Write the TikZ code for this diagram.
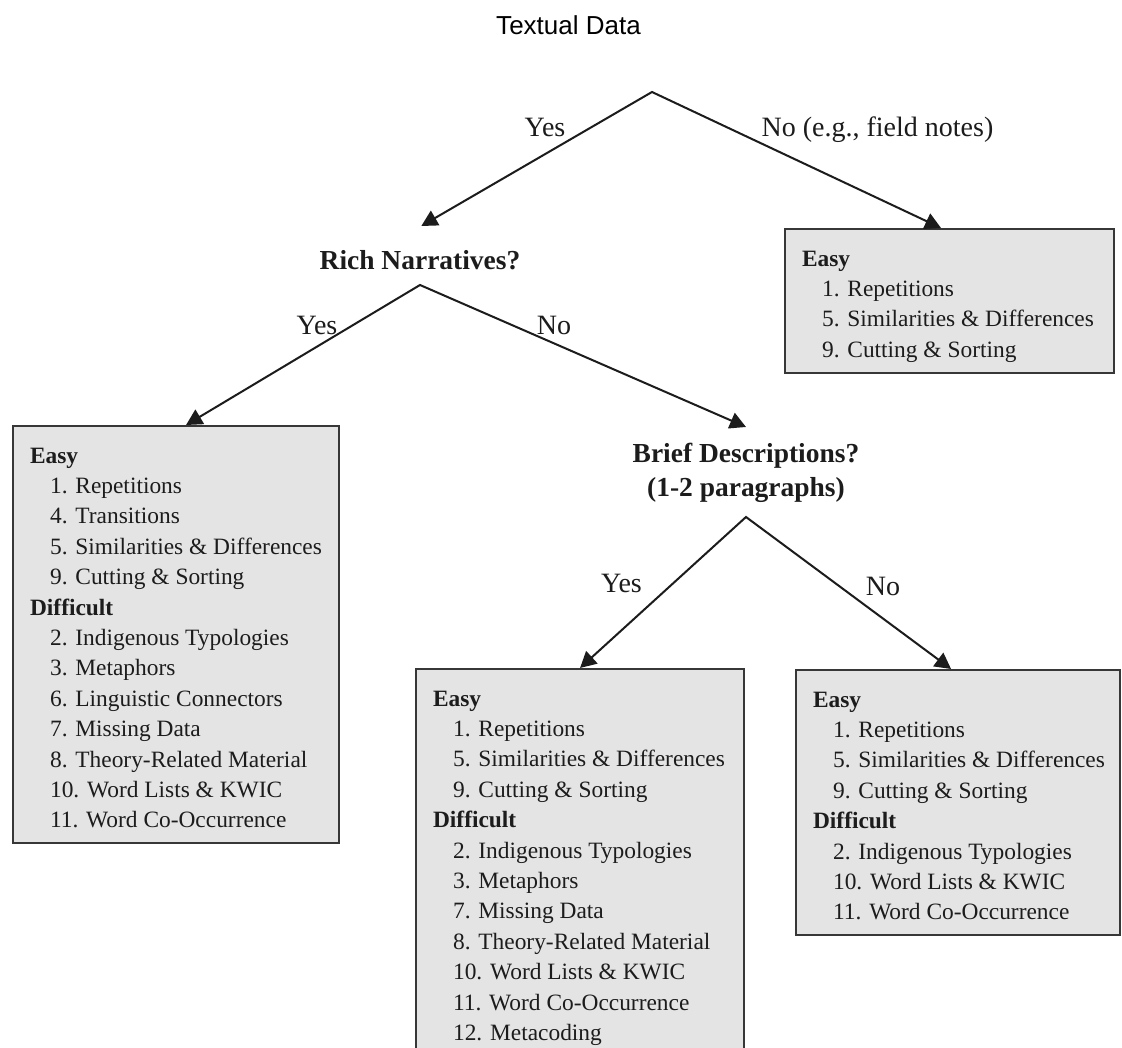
\documentclass[tikz,border=0pt]{standalone}
\usepackage{fontspec}
\setmainfont{Liberation Serif}
\newfontfamily\titlefont{Liberation Sans}
\usetikzlibrary{arrows.meta}

\definecolor{boxfill}{RGB}{227,228,227}
\definecolor{boxline}{RGB}{55,55,55}
\definecolor{ink}{RGB}{28,28,28}

% one line of a list box: a bold heading or an indented entry
\newcommand\boxhead[1]{\mbox{\bfseries #1}}
\newcommand\boxitem[1]{\mbox{\hspace*{15pt}#1}}

\begin{document}
\begin{tikzpicture}[x=0.75pt, y=-0.75pt, line join=miter,
  tipshape/.tip={Triangle[length=12pt,width=12.5pt]},
  branch/.style={draw=ink, line width=1.5pt, {tipshape}-{tipshape}},
  lab/.style={font=\fontsize{21pt}{25pt}\selectfont, text=ink, inner sep=0pt, anchor=base},
  question/.style={font=\bfseries\fontsize{20.6pt}{25.5pt}\selectfont, text=ink,
    inner sep=0pt, outer sep=0pt},
  infobox/.style={draw=boxline, fill=boxfill, line width=1.6pt, inner xsep=12.75pt,
    inner ysep=0pt, text height=27.75pt, anchor=north west, text=ink,
    font=\fontsize{17.55pt}{22.8pt}\selectfont}]

\useasboundingbox (0,0) rectangle (1122,1048);
\fill[white] (0,0) rectangle (1122,1048);
\clip (0,0) rectangle (1122,1048);

% heading
\node[font=\titlefont\fontsize{19.5pt}{23pt}\selectfont, text=black, anchor=base,
  inner sep=0pt] (title) at (568.5,35) {Textual Data};
\coordinate (root) at (652,92);

% decision points
\node[question, anchor=base, text height=33pt, text depth=11.25pt] (rich) at (420,270)
  {Rich Narratives?};
\node[question, anchor=north, text height=27pt, text depth=40.5pt] (brief) at (746,427)
  {\begin{tabular}[t]{@{}c@{}}Brief Descriptions?\\(1-2 paragraphs)\end{tabular}};

% outcome boxes
\node[infobox, text depth=80.25pt] (fieldnotes) at (784,228)
  {\parbox[t]{221.25pt}{\boxhead{Easy}\\
   \boxitem{1. Repetitions}\\
   \boxitem{5. Similarities \& Differences}\\
   \boxitem{9. Cutting \& Sorting}}};

\node[infobox, text depth=285pt] (narr) at (12,425)
  {\parbox[t]{219pt}{\boxhead{Easy}\\
   \boxitem{1. Repetitions}\\
   \boxitem{4. Transitions}\\
   \boxitem{5. Similarities \& Differences}\\
   \boxitem{9. Cutting \& Sorting}\\
   \boxhead{Difficult}\\
   \boxitem{2. Indigenous Typologies}\\
   \boxitem{3. Metaphors}\\
   \boxitem{6. Linguistic Connectors}\\
   \boxitem{7. Missing Data}\\
   \boxitem{8. Theory-Related Material}\\
   \boxitem{10. Word Lists \& KWIC}\\
   \boxitem{11. Word Co-Occurrence}}};

\node[infobox, text depth=270pt] (briefyes) at (415,668)
  {\parbox[t]{220.5pt}{\boxhead{Easy}\\
   \boxitem{1. Repetitions}\\
   \boxitem{5. Similarities \& Differences}\\
   \boxitem{9. Cutting \& Sorting}\\
   \boxhead{Difficult}\\
   \boxitem{2. Indigenous Typologies}\\
   \boxitem{3. Metaphors}\\
   \boxitem{7. Missing Data}\\
   \boxitem{8. Theory-Related Material}\\
   \boxitem{10. Word Lists \& KWIC}\\
   \boxitem{11. Word Co-Occurrence}\\
   \boxitem{12. Metacoding}}};

\node[infobox, text depth=171pt] (briefno) at (795,669)
  {\parbox[t]{217.5pt}{\boxhead{Easy}\\
   \boxitem{1. Repetitions}\\
   \boxitem{5. Similarities \& Differences}\\
   \boxitem{9. Cutting \& Sorting}\\
   \boxhead{Difficult}\\
   \boxitem{2. Indigenous Typologies}\\
   \boxitem{10. Word Lists \& KWIC}\\
   \boxitem{11. Word Co-Occurrence}}};

% branches
\draw[branch] ([xshift=1pt]rich.north) -- (root) -- ([xshift=-6.4pt]fieldnotes.north);
\draw[branch] ([xshift=7.5pt]narr.north) -- (rich.south) -- (brief.north);
\draw[branch] (briefyes.north) -- (brief.south) -- ([xshift=-5.25pt]briefno.north);

% branch labels
\node[lab] (yes0) at (545,137) {Yes};
\node[lab] (no0) at (877.5,137) {No (e.g., field notes)};
\node[lab] (yes1) at (317,335) {Yes};
\node[lab] (no1) at (554,335) {No};
\node[lab] (yes2) at (621.5,593) {Yes};
\node[lab] (no2) at (883,595) {No};
\end{tikzpicture}
\end{document}
